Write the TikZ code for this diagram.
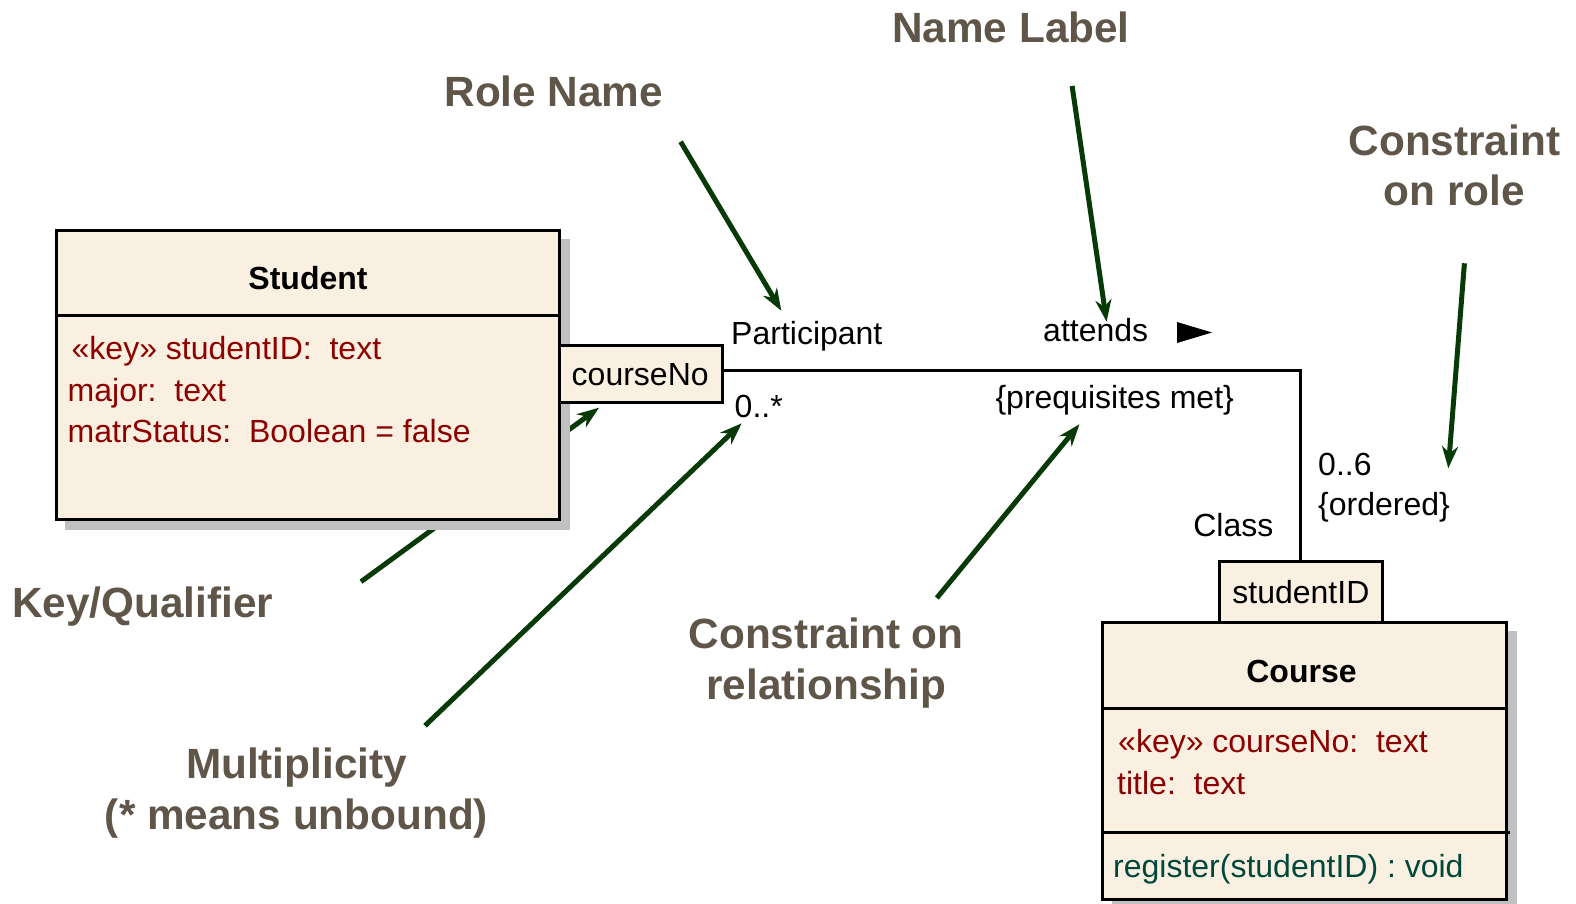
\documentclass[tikz,border=0pt]{standalone}
\usepackage{fontspec}
\setmainfont{Liberation Sans}
\usetikzlibrary{arrows.meta}
\definecolor{boxfill}{RGB}{250,240,225}
\definecolor{shadowgray}{RGB}{192,192,192}
\definecolor{attrred}{RGB}{140,0,0}
\definecolor{opteal}{RGB}{0,72,60}
\definecolor{notecol}{RGB}{95,85,72}
\definecolor{arrowgreen}{RGB}{8,58,8}
\begin{document}
\begin{tikzpicture}[x=1pt,y=-1pt,
  umltext/.style={inner sep=0pt, font=\fontsize{32}{38}\selectfont},
  attr/.style={umltext, text=attrred, anchor=base west},
  note/.style={inner sep=0pt, font=\fontsize{42.3}{50}\selectfont\bfseries, text=notecol, anchor=base},
  pointer/.style={draw=arrowgreen, line width=5pt, -{Stealth[length=22pt,width=16pt,inset=7pt]}},
  boxline/.style={draw=black, line width=3pt},
  classbox/.style={boxline, fill=boxfill, inner sep=0pt, outer sep=0pt, anchor=north west},
  qualbox/.style={boxline, fill=boxfill, inner sep=0pt, outer sep=0pt, anchor=north west, font=\fontsize{32}{38}\selectfont},
  shadowbox/.style={fill=shadowgray, draw=none},
  assoc/.style={draw=black, line width=3pt},
]
\useasboundingbox (0,0) rectangle (1576,904);

% ---------- pointer end points ----------
\coordinate (kq-s) at (361,581.7);
\coordinate (kq-t) at (599,407.7);
\coordinate (mu-s) at (425,725.7);
\coordinate (mu-t) at (741.7,423.3);
\coordinate (rn-s) at (680.6,141.7);
\coordinate (rn-t) at (781.3,310.7);
\coordinate (nl-s) at (1072.1,86);
\coordinate (nl-t) at (1106.6,321.7);
\coordinate (cr-s) at (1464.4,263.3);
\coordinate (cr-t) at (1448.3,468.3);
\coordinate (crel-s) at (936.8,598);
\coordinate (crel-t) at (1079.5,424.2);

% key/qualifier pointer passes behind the Student class
\draw[pointer] (kq-s) -- (kq-t);

% ---------- Student class ----------
\path[shadowbox] (65.3,239.2) rectangle (569.8,529.6);
\node[classbox, minimum width=503.5pt, minimum height=289.4pt] (student) at (56.3,230.2) {};
\draw[boxline] (56.3,315.6) -- (559.8,315.6);
\node[umltext, anchor=base, font=\fontsize{32}{38}\selectfont\bfseries] (studentname) at (308,289.3) {Student};
\node[attr] (sattr1) at (71.5,359.8) {«key» studentID:\ \ text};
\node[attr] (sattr2) at (67.5,401.7) {major:\ \ text};
\node[attr] (sattr3) at (67.5,442.7) {matrStatus:\ \ Boolean = false};

% qualifier courseNo
\node[qualbox, minimum width=162.9pt, minimum height=56.2pt] (cno) at (559.8,345.8) {};
\node[umltext, anchor=base] (cnotext) at (640.2,385.5) {courseNo};

% ---------- Course class ----------
\path[shadowbox] (1112.2,630.7) rectangle (1516.9,910);
\node[qualbox, minimum width=162.8pt, minimum height=60.6pt] (sid) at (1219.5,561.9) {};
\node[umltext, anchor=base] (sidtext) at (1300.9,603) {studentID};
\node[classbox, minimum width=404.7pt, minimum height=276.5pt] (course) at (1102,622.5) {};
\draw[boxline] (1102,708.3) -- (1506.7,708.3);
\draw[boxline] (1102,832.3) -- (1509.5,832.3);
\node[umltext, anchor=base, font=\fontsize{32}{38}\selectfont\bfseries] (coursename) at (1301.5,682) {Course};
\node[attr] (cattr1) at (1118,752.5) {«key» courseNo:\ \ text};
\node[attr] (cattr2) at (1117,794) {title:\ \ text};
\node[attr, text=opteal] (cop1) at (1113,877.2) {register(studentID) : void};

% ---------- association ----------
\draw[assoc] ([yshift=3.9pt]cno.east) -| (sid.north);
\node[umltext, anchor=base west] (participant) at (731,344) {Participant};
\node[umltext, anchor=base west] (mult1) at (734.5,417.8) {0..*};
\node[umltext, anchor=base west] (attends) at (1043,341.2) {attends};
\fill[black] (1177,322) -- (1177,343) -- (1212,332.5) -- cycle;
\node[umltext, anchor=base] (prereq) at (1114.7,408) {\{prequisites met\}};
\node[umltext, anchor=base west] (mult2) at (1318,475.5) {0..6};
\node[umltext, anchor=base west] (ordered) at (1318,515.5) {\{ordered\}};
\node[umltext, anchor=base east] (classrole) at (1273.5,536.2) {Class};

% ---------- annotations ----------
\node[note] (namelabel) at (1011,42.5) {Name Label};
\node[note] (rolename) at (553.8,106.8) {Role Name};
\node[note] (conrole1) at (1454.4,155.2) {Constraint};
\node[note] (conrole2) at (1454.4,205.4) {on role};
\node[note] (keyqual) at (142.7,617.5) {Key/Qualifier};
\node[note] (conrel1) at (826.2,648.6) {Constraint on};
\node[note] (conrel2) at (826.2,699.8) {relationship};
\node[note] (multi1) at (296.5,778.3) {Multiplicity};
\node[note] (multi2) at (296.5,829.3) {(* means unbound)};

% ---------- pointers ----------
\draw[pointer] (mu-s) -- (mu-t);
\draw[pointer] (rn-s) -- (rn-t);
\draw[pointer] (nl-s) -- (nl-t);
\draw[pointer] (cr-s) -- (cr-t);
\draw[pointer] (crel-s) -- (crel-t);
\end{tikzpicture}
\end{document}
